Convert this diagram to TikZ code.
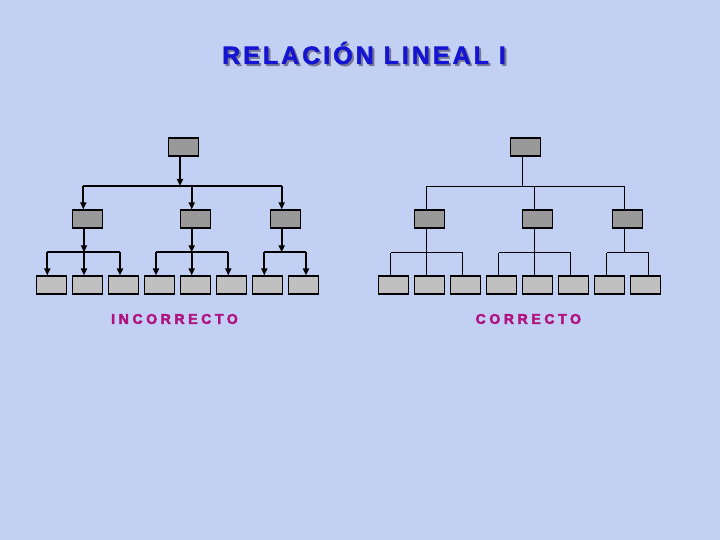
\documentclass[tikz,border=0pt]{standalone}
\usepackage{fontspec}
\usetikzlibrary{arrows.meta}
\newfontfamily\titlefont{Liberation Sans}[LetterSpace=12,FakeBold=2]
\newfontfamily\labelfont{Liberation Sans}[LetterSpace=26,FakeBold=3]
\definecolor{bgblue}{RGB}{194,208,244}
\definecolor{darkbox}{RGB}{153,153,153}
\definecolor{lightbox}{RGB}{192,192,192}
\definecolor{titleblue}{RGB}{20,20,210}
\definecolor{shadowgray}{RGB}{120,120,150}
\definecolor{labelmag}{RGB}{176,18,127}
\tikzset{
  boxd/.style={draw=black,line width=1.2pt,fill=darkbox,minimum width=30pt,minimum height=18pt,inner sep=0pt},
  boxl/.style={draw=black,line width=1.2pt,fill=lightbox,minimum width=30pt,minimum height=18pt,inner sep=0pt},
  thickline/.style={draw=black,line width=1.8pt},
  arr/.style={thickline,-{Triangle[length=7pt,width=6pt]}},
  thinline/.style={draw=black,line width=1pt},
  titletext/.style={font=\titlefont\bfseries\fontsize{25}{25}\selectfont,inner sep=0pt},
  labeltext/.style={font=\labelfont\bfseries\fontsize{14}{14}\selectfont,inner sep=0pt,text=labelmag}
}
\begin{document}
\begin{tikzpicture}[x=1pt,y=-1pt]
\useasboundingbox (0,0) rectangle (720,540);
\fill[bgblue] (0,0) rectangle (720,540);

% Title
\node[titletext,text=shadowgray] (titleshadow) at (366,55) {RELACIÓN LINEAL I};
\node[titletext,text=titleblue] (title) at (364,53) {RELACIÓN LINEAL I};

% ---------- Left tree (INCORRECTO) ----------
\node[boxd] (LT) at (183.3,147) {};
\node[boxd] (LM1) at (87.3,219) {};
\node[boxd] (LM2) at (195.3,219) {};
\node[boxd] (LM3) at (285.3,219) {};
\foreach \i/\x in {1/51.7,2/87.3,3/123.3,4/159.3,5/195.3,6/231.3,7/267.3,8/303.3}
  \node[boxl] (LB\i) at (\x,285) {};

\coordinate (LA) at (83.3,186);
\coordinate (LBt) at (180,186);
\coordinate (LC) at (191.7,186);
\coordinate (LD) at (281.7,186);
\draw[thickline] (LA) -- (LD);
\draw[arr] (LT.south -| LBt) -- (LBt);
\draw[arr] (LA) -- (LA |- LM1.north);
\draw[arr] (LC) -- (LC |- LM2.north);
\draw[arr] (LD) -- (LD |- LM3.north);

\coordinate (L1a) at (47.3,252.3);
\coordinate (L1b) at (84,252.3);
\coordinate (L1c) at (120,252.3);
\coordinate (L2a) at (156,252.3);
\coordinate (L2b) at (191.7,252.3);
\coordinate (L2c) at (228.3,252.3);
\coordinate (L3a) at (264.3,252.3);
\coordinate (L3b) at (281.7,252.3);
\coordinate (L3c) at (306,252.3);
\draw[thickline] (L1a) -- (L1c);
\draw[thickline] (L2a) -- (L2c);
\draw[thickline] (L3a) -- (L3c);
\draw[arr] (LM1.south -| L1b) -- (L1b);
\draw[arr] (LM2.south -| L2b) -- (L2b);
\draw[arr] (LM3.south -| L3b) -- (L3b);
\draw[arr] (L1a) -- (L1a |- LB1.north);
\draw[arr] (L1b) -- (L1b |- LB2.north);
\draw[arr] (L1c) -- (L1c |- LB3.north);
\draw[arr] (L2a) -- (L2a |- LB4.north);
\draw[arr] (L2b) -- (L2b |- LB5.north);
\draw[arr] (L2c) -- (L2c |- LB6.north);
\draw[arr] (L3a) -- (L3a |- LB7.north);
\draw[arr] (L3c) -- (L3c |- LB8.north);

% ---------- Right tree (CORRECTO) ----------
\node[boxd] (RT) at (525.5,147) {};
\node[boxd] (RM1) at (429.3,219) {};
\node[boxd] (RM2) at (537.3,219) {};
\node[boxd] (RM3) at (627.3,219) {};
\foreach \i/\x in {1/393.3,2/429.3,3/465.3,4/501.3,5/537.3,6/573.3,7/609.3,8/645.3}
  \node[boxl] (RB\i) at (\x,285) {};

\coordinate (RA) at (426.5,186.5);
\coordinate (RBt) at (522.5,186.5);
\coordinate (RC) at (534.5,186.5);
\coordinate (RD) at (624.5,186.5);
\draw[thinline] (RA) -- (RD);
\draw[thinline] (RT.south -| RBt) -- (RBt);
\draw[thinline] (RA) -- (RA |- RM1.north);
\draw[thinline] (RC) -- (RC |- RM2.north);
\draw[thinline] (RD) -- (RD |- RM3.north);

\coordinate (R1a) at (390.5,252.5);
\coordinate (R1b) at (426.5,252.5);
\coordinate (R1c) at (462.5,252.5);
\coordinate (R2a) at (498.5,252.5);
\coordinate (R2b) at (534.5,252.5);
\coordinate (R2c) at (570.5,252.5);
\coordinate (R3a) at (606.5,252.5);
\coordinate (R3b) at (624.5,252.5);
\coordinate (R3c) at (648.5,252.5);
\draw[thinline] (R1a) -- (R1c);
\draw[thinline] (R2a) -- (R2c);
\draw[thinline] (R3a) -- (R3c);
\draw[thinline] (RM1.south -| R1b) -- (R1b);
\draw[thinline] (RM2.south -| R2b) -- (R2b);
\draw[thinline] (RM3.south -| R3b) -- (R3b);
\draw[thinline] (R1a) -- (R1a |- RB1.north);
\draw[thinline] (R1b) -- (R1b |- RB2.north);
\draw[thinline] (R1c) -- (R1c |- RB3.north);
\draw[thinline] (R2a) -- (R2a |- RB4.north);
\draw[thinline] (R2b) -- (R2b |- RB5.north);
\draw[thinline] (R2c) -- (R2c |- RB6.north);
\draw[thinline] (R3a) -- (R3a |- RB7.north);
\draw[thinline] (R3c) -- (R3c |- RB8.north);

% Labels
\node[labeltext] (incorrecto) at (174.5,319) {INCORRECTO};
\node[labeltext] (correcto) at (528.3,319) {CORRECTO};
\end{tikzpicture}
\end{document}
